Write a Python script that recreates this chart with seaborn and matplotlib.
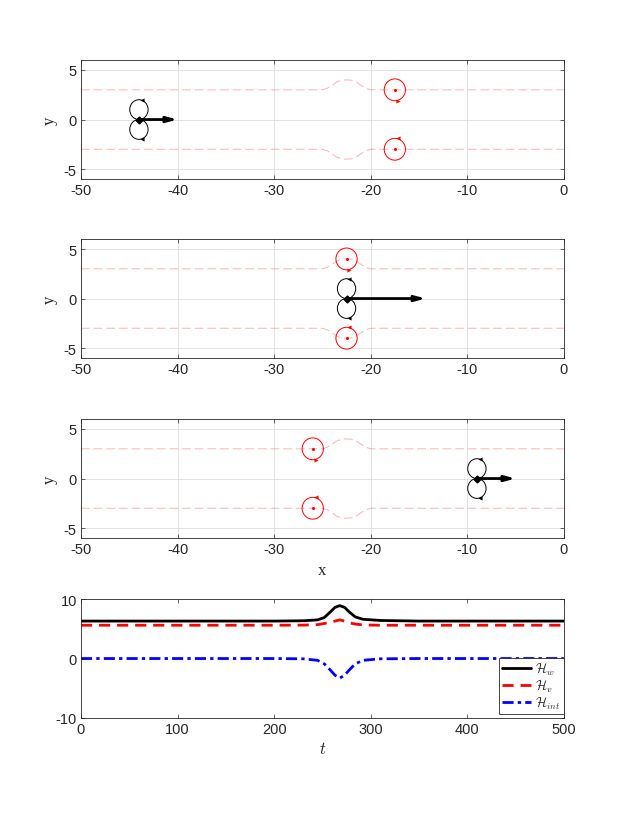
import numpy as np
import pandas as pd
import matplotlib
matplotlib.use("Agg")
import matplotlib.pyplot as plt
from matplotlib.patches import Ellipse
import seaborn as sns

# ---------------- data ----------------
# vortex-pair trajectory (upper branch; lower branch is mirrored)
traj_x = [-50, -25, -24.5, -24, -23.5, -23, -22.5, -22, -21.5, -21, -20.5, -20, 0]
traj_y = [3, 3, 3.15, 3.45, 3.8, 3.97, 4, 3.97, 3.8, 3.45, 3.15, 3.0, 3]

# snapshots: dipole position, arrow length, red vortex x / |y|
dipole_x = [-44, -22.5, -9]
arrow_len = [4, 8.2, 4]
red_x = [-17.5, -22.5, -26]
red_y = [3, 4, 3]

# Hamiltonians vs time
t_vals = [0, 200, 230, 245, 252, 258, 263, 268, 273, 278, 284, 292, 310, 350, 500]
H_w = [6.3, 6.3, 6.35, 6.5, 6.9, 7.8, 8.6, 8.9, 8.6, 7.8, 7.0, 6.6, 6.4, 6.3, 6.3]
H_v = [5.6, 5.6, 5.62, 5.7, 5.9, 6.1, 6.3, 6.5, 6.3, 6.0, 5.8, 5.65, 5.6, 5.6, 5.6]
H_int = [0, 0, -0.05, -0.3, -0.9, -1.9, -2.8, -3.3, -2.8, -1.9, -0.9, -0.3, -0.05, 0, 0]

x_ticks = [-50, -40, -30, -20, -10, 0]
y_ticks = [-5, 0, 5]
t_ticks = [0, 100, 200, 300, 400, 500]
h_ticks = [-10, 0, 10]

# ---------------- style ----------------
sns.set_style("ticks")
plt.rcParams['font.family'] = ['Liberation Sans', 'DejaVu Sans']
plt.rcParams['mathtext.fontset'] = 'cm'
plt.rcParams['axes.unicode_minus'] = False

fig = plt.figure(figsize=(6.23, 8.2), dpi=100)
L, W = 0.130, 0.775
bottoms = [0.7805, 0.5622, 0.3427, 0.1232]
H = 0.1450

def style_axes(ax, grid=True):
    for s in ax.spines.values():
        s.set_visible(True)
        s.set_color('#262626')
        s.set_linewidth(0.6)
    ax.tick_params(direction='in', top=True, right=True, length=3,
                   width=0.5, labelsize=10.5, colors='#262626', pad=3)
    if grid:
        ax.grid(True, color='#dedede', linewidth=0.6)
        ax.set_axisbelow(True)

traj_df_up = pd.DataFrame({'x': traj_x, 'y': traj_y})
traj_df_lo = pd.DataFrame({'x': traj_x, 'y': [-v for v in traj_y]})

for i in range(3):
    ax = fig.add_axes([L, bottoms[i], W, H])
    style_axes(ax)
    # trajectories
    for df in (traj_df_up, traj_df_lo):
        sns.lineplot(data=df, x='x', y='y', sort=False, ax=ax, color='red',
                     alpha=0.3, linewidth=0.7, linestyle=(0, (9, 4)))
    # red vortices
    for sgn in (1, -1):
        cx, cy = red_x[i], sgn * red_y[i]
        ax.add_patch(Ellipse((cx, cy), 2.2, 2.2, fill=False, ec='red', lw=0.7))
        ax.plot([cx], [cy], 'o', color='red', ms=1.2)
        if sgn > 0:
            ax.plot([cx + 0.3], [cy - 1.1], marker='>', color='red', ms=3, mew=0)
        else:
            ax.plot([cx + 0.3], [cy + 1.1], marker='<', color='red', ms=3, mew=0)
    # dipole
    dx = dipole_x[i]
    for sgn in (1, -1):
        ax.add_patch(Ellipse((dx, sgn * 1.0), 1.9, 2.0, fill=False, ec='black', lw=0.7))
        ax.plot([dx + 0.3], [sgn * 2.0], marker='<', color='black', ms=3, mew=0)
    ax.annotate('', xy=(dx + arrow_len[i], 0), xytext=(dx, 0),
                arrowprops=dict(arrowstyle='-|>,head_length=0.6,head_width=0.16',
                                color='black', lw=2.0, shrinkA=0, shrinkB=0))
    ax.plot([dx], [0], marker='D', color='black', ms=3.5)
    ax.set_xlim(-50, 0)
    ax.set_ylim(-6, 6)
    ax.set_xticks(x_ticks)
    ax.set_yticks(y_ticks)
    ax.set_ylabel('y', family='Liberation Serif', fontsize=12, labelpad=4)
    ax.set_xlabel('x' if i == 2 else '', family='Liberation Serif', fontsize=12, labelpad=4)

# Hamiltonian panel
ax = fig.add_axes([L, bottoms[3], W, H])
style_axes(ax, grid=False)
hdf = pd.DataFrame({'t': t_vals, 'w': H_w, 'v': H_v, 'int': H_int})
sns.lineplot(data=hdf, x='t', y='w', ax=ax, color='black', lw=2.0,
             label=r'$\mathcal{H}_w$')
sns.lineplot(data=hdf, x='t', y='v', ax=ax, color='red', lw=2.0,
             linestyle=(0, (4, 2.5)), label=r'$\mathcal{H}_v$')
sns.lineplot(data=hdf, x='t', y='int', ax=ax, color='blue', lw=2.0,
             linestyle=(0, (4, 1.5, 1.2, 1.5)), label=r'$\mathcal{H}_{int}$')
ax.set_xlim(0, 500)
ax.set_ylim(-10, 10)
ax.set_xticks(t_ticks)
ax.set_yticks(h_ticks)
ax.set_ylabel('')
ax.set_xlabel(r'$t$', fontsize=12, labelpad=3)
leg = ax.legend(loc='lower right', bbox_to_anchor=(1.0, 0.03), borderaxespad=0,
                fontsize=9.5, frameon=True, fancybox=False, framealpha=1,
                handlelength=2.2, handletextpad=0.3, labelspacing=0.05,
                borderpad=0.25)
leg.get_frame().set_edgecolor('#262626')
leg.get_frame().set_linewidth(0.6)

fig.savefig('out.png', dpi=100)
